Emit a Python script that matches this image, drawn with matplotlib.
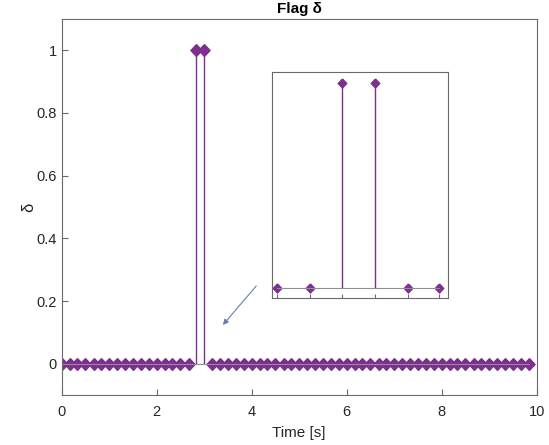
import matplotlib.pyplot as plt
from matplotlib.ticker import FuncFormatter

plt.rcParams['font.family'] = ['Liberation Sans', 'DejaVu Sans']

# sample times [s] and flag value
time_s = [0.00, 0.17, 0.33, 0.50, 0.67, 0.83, 1.00, 1.17, 1.33, 1.50,
          1.67, 1.83, 2.00, 2.17, 2.33, 2.50, 2.67, 2.83, 3.00, 3.17,
          3.33, 3.50, 3.67, 3.83, 4.00, 4.17, 4.33, 4.50, 4.67, 4.83,
          5.00, 5.17, 5.33, 5.50, 5.67, 5.83, 6.00, 6.17, 6.33, 6.50,
          6.67, 6.83, 7.00, 7.17, 7.33, 7.50, 7.67, 7.83, 8.00, 8.17,
          8.33, 8.50, 8.67, 8.83, 9.00, 9.17, 9.33, 9.50, 9.67, 9.83]
flag = [0, 0, 0, 0, 0, 0, 0, 0, 0, 0,
        0, 0, 0, 0, 0, 0, 0, 1, 1, 0,
        0, 0, 0, 0, 0, 0, 0, 0, 0, 0,
        0, 0, 0, 0, 0, 0, 0, 0, 0, 0,
        0, 0, 0, 0, 0, 0, 0, 0, 0, 0,
        0, 0, 0, 0, 0, 0, 0, 0, 0, 0]

# points shown in the zoomed inset
zoom_time = [2.50, 2.67, 2.83, 3.00, 3.17, 3.33]
zoom_flag = [0, 0, 1, 1, 0, 0]

purple = '#7E2F8E'
edge = '#6a6a6a'
txt = '#262626'
diamond = [(0, 1), (0.95, 0), (0, -1), (-0.95, 0), (0, 1)]


def style(ax):
    for s in ax.spines.values():
        s.set_color(edge)
        s.set_linewidth(0.8)
    ax.tick_params(direction='in', colors=edge, labelcolor=txt, length=4,
                   width=0.8, labelsize=10.5)


fig = plt.figure(figsize=(5.49, 4.45), dpi=100)
ax = fig.add_axes([0.1124, 0.1115, 0.8652, 0.8465])
ml, sl, bl = ax.stem(time_s, flag)
plt.setp(ml, marker=diamond, markersize=8.5, color=purple, markeredgecolor=purple)
plt.setp(sl, color=purple, linewidth=1.0)
plt.setp(bl, color='#909090', linewidth=0.8)
ax.set_xlim(0, 10)
ax.set_ylim(-0.1, 1.1)
ax.set_xticks([0, 2, 4, 6, 8, 10])
ax.set_yticks([0, 0.2, 0.4, 0.6, 0.8, 1])
ax.yaxis.set_major_formatter(FuncFormatter(lambda v, p: f'{v:g}'))
style(ax)
ax.tick_params(axis='x', pad=7)
ax.set_title('Flag δ', fontsize=11, fontweight='bold', color='black', pad=4)
ax.set_xlabel('Time [s]', fontsize=11, color=txt, labelpad=5)
ax.set_ylabel('δ', fontsize=12, color=txt, labelpad=0)

# inset
ins = fig.add_axes([0.4949, 0.3303, 0.3217, 0.5086])
ml2, sl2, bl2 = ins.stem(zoom_time, zoom_flag)
plt.setp(ml2, marker=diamond, markersize=6.5, color=purple, markeredgecolor=purple)
plt.setp(sl2, color=purple, linewidth=1.0)
plt.setp(bl2, color='#909090', linewidth=0.8)
ins.set_xlim(2.472, 3.377)
ins.set_ylim(-0.05, 1.055)
ins.set_xticks(zoom_time)
ins.set_xticklabels([])
ins.set_yticks([])
style(ins)
ins.tick_params(length=3)

ax.annotate('', xy=(0.4026, 0.265), xytext=(0.470, 0.362),
            xycoords='figure fraction', textcoords='figure fraction',
            arrowprops=dict(arrowstyle='-|>', color='#6b7bb0', lw=0.8,
                            mutation_scale=8))

plt.savefig('out.png', dpi=100)
